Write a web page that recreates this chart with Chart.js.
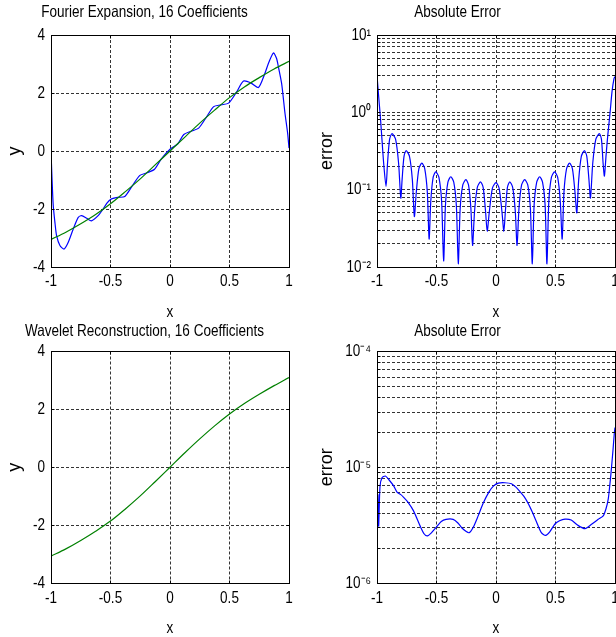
<!DOCTYPE html>
<html>
<head>
<meta charset="utf-8">
<title>Fourier vs wavelet, 16 coefficients</title>
<script src="https://cdn.jsdelivr.net/npm/chart.js@4.4.1/dist/chart.umd.min.js"></script>
<style>
    html, body { margin: 0; padding: 0; background: #fff; overflow: hidden; }
    body { position: relative; width: 616px; height: 637px; }
    canvas { position: absolute; }
    #fourierChart { left: 0; top: 0; }
    #fourierErrorChart { left: 300px; top: 0; }
    #waveletChart { left: 0; top: 318px; }
    #waveletErrorChart { left: 300px; top: 318px; }
</style>
</head>
<body>
<canvas id="fourierChart" width="340" height="318"></canvas>
<canvas id="fourierErrorChart" width="393" height="318"></canvas>
<canvas id="waveletChart" width="340" height="319"></canvas>
<canvas id="waveletErrorChart" width="393" height="319"></canvas>
<script>
// axis ticks
var xTicks = [-1, -0.5, 0, 0.5, 1];
var xTickLabels = ["-1", "-0.5", "0", "0.5", "1"];
var yTicks = [-4, -2, 0, 2, 4];
var yTickLabels = ["-4", "-2", "0", "2", "4"];

var fourierErrDecades = [1e-2, 1e-1, 1e0, 1e1];
var fourierErrLabels = ["10⁻²", "10⁻¹", "10⁰", "10¹"];
var waveletErrDecades = [1e-6, 1e-5, 1e-4];
var waveletErrLabels = ["10⁻⁶", "10⁻⁵", "10⁻⁴"];

// exact function
var exactX = [-1, -0.875, -0.75, -0.625, -0.5, -0.375, -0.25, -0.125, 0,
    0.125, 0.25, 0.375, 0.5, 0.625, 0.75, 0.875, 1];
var exactY = [-3.05, -2.80, -2.51, -2.19, -1.82, -1.40, -0.96, -0.48, 0,
    0.48, 0.96, 1.41, 1.84, 2.21, 2.53, 2.83, 3.09];

// truncated Fourier series
var fourierX = [-1, -0.992, -0.981, -0.966, -0.953, -0.925, -0.889, -0.855, -0.813, -0.771,
    -0.743, -0.70, -0.66, -0.604, -0.562, -0.53, -0.50, -0.44, -0.38, -0.317,
    -0.253, -0.197, -0.13, -0.074, 0, 0.066, 0.116, 0.177, 0.241, 0.305,
    0.367, 0.428, 0.492, 0.556, 0.618, 0.679, 0.743, 0.794, 0.83, 0.869,
    0.895, 0.911, 0.938, 0.966, 0.989, 1];
var fourierY = [0, -0.9, -1.89, -2.5, -2.92, -3.26, -3.38, -3.15, -2.69, -2.29,
    -2.23, -2.32, -2.41, -2.23, -2.0, -1.80, -1.67, -1.60, -1.57, -1.20,
    -0.84, -0.76, -0.63, -0.28, 0.06, 0.25, 0.57, 0.68, 0.79, 1.16,
    1.53, 1.59, 1.65, 2.01, 2.41, 2.35, 2.19, 2.64, 3.05, 3.38,
    3.2, 2.9, 2.33, 1.31, 0.6, 0.1];

// |fourier - exact|
var fourierErrX = [-1, -0.986, -0.972, -0.958, -0.944, -0.924,
    -0.9115, -0.894, -0.874, -0.844, -0.8185, -0.800,
    -0.789, -0.773, -0.755, -0.727, -0.703, -0.686,
    -0.670, -0.648, -0.623, -0.599, -0.577, -0.562,
    -0.548, -0.528, -0.506, -0.480, -0.457, -0.440,
    -0.425, -0.404, -0.380, -0.355, -0.333, -0.317,
    -0.301, -0.279, -0.253, -0.231, -0.211, -0.197,
    -0.180, -0.157, -0.130, -0.108, -0.088, -0.074,
    -0.056, -0.030, 0.0, 0.026, 0.050, 0.066,
    0.079, 0.096, 0.116, 0.140, 0.162, 0.177,
    0.193, 0.215, 0.241, 0.267, 0.289, 0.305,
    0.320, 0.342, 0.367, 0.391, 0.413, 0.428,
    0.444, 0.466, 0.492, 0.518, 0.540, 0.556,
    0.571, 0.593, 0.618, 0.642, 0.664, 0.679,
    0.695, 0.717, 0.743, 0.763, 0.781, 0.794,
    0.813, 0.839, 0.869, 0.886, 0.900, 0.911,
    0.925, 0.939, 0.958, 0.975, 0.992, 1.0];
var fourierErrY = [3.0, 1.6, 0.88, 0.44, 0.22, 0.11,
    0.22, 0.45, 0.53, 0.45, 0.22, 0.078,
    0.135, 0.27, 0.32, 0.27, 0.135, 0.045,
    0.092, 0.187, 0.22, 0.187, 0.092, 0.023,
    0.071, 0.145, 0.17, 0.145, 0.071, 0.012,
    0.062, 0.125, 0.147, 0.125, 0.062, 0.011,
    0.057, 0.115, 0.135, 0.115, 0.057, 0.019,
    0.053, 0.107, 0.126, 0.107, 0.053, 0.029,
    0.052, 0.105, 0.123, 0.105, 0.052, 0.029,
    0.053, 0.107, 0.126, 0.107, 0.053, 0.019,
    0.057, 0.115, 0.135, 0.115, 0.057, 0.011,
    0.062, 0.125, 0.147, 0.125, 0.062, 0.011,
    0.071, 0.145, 0.17, 0.145, 0.071, 0.023,
    0.092, 0.187, 0.22, 0.187, 0.092, 0.05,
    0.135, 0.27, 0.32, 0.27, 0.135, 0.078,
    0.22, 0.45, 0.53, 0.45, 0.22, 0.15,
    0.28, 0.5, 0.97, 1.85, 2.75, 2.9];

// wavelet reconstruction
var waveletX = [-1, -0.875, -0.75, -0.625, -0.5, -0.375, -0.25, -0.125, 0,
    0.125, 0.25, 0.375, 0.5, 0.625, 0.75, 0.875, 1];
var waveletY = [-3.07, -2.82, -2.53, -2.21, -1.86, -1.44, -0.99, -0.50, 0,
    0.50, 0.98, 1.43, 1.84, 2.20, 2.52, 2.82, 3.10];

// |wavelet - exact|
var waveletErrX = [-1, -0.996, -0.992, -0.986, -0.975, -0.958, -0.93, -0.90, -0.86, -0.832,
    -0.80, -0.776, -0.74, -0.693, -0.637, -0.603, -0.576, -0.545, -0.50, -0.46,
    -0.42, -0.36, -0.32, -0.288, -0.25, -0.225, -0.19, -0.15, -0.107, -0.06,
    -0.02, 0.02, 0.074, 0.13, 0.17, 0.20, 0.235, 0.269, 0.305, 0.339,
    0.381, 0.417, 0.45, 0.497, 0.534, 0.58, 0.632, 0.688, 0.748, 0.80,
    0.859, 0.901, 0.925, 0.943, 0.955, 0.966, 0.983, 0.994, 1.0];
var waveletErrY = [7.6e-6, 4.0e-6, 5.8e-6, 3.1e-6, 6.8e-6, 8.1e-6, 8.4e-6, 7.8e-6, 6.9e-6, 6.1e-6,
    5.8e-6, 5.5e-6, 5.0e-6, 4.2e-6, 3.1e-6, 2.65e-6, 2.55e-6, 2.7e-6, 3.05e-6, 3.4e-6,
    3.55e-6, 3.55e-6, 3.3e-6, 3.0e-6, 2.78e-6, 2.72e-6, 3.05e-6, 3.8e-6, 4.9e-6, 6.1e-6,
    6.9e-6, 7.3e-6, 7.35e-6, 7.2e-6, 6.7e-6, 6.2e-6, 5.6e-6, 4.9e-6, 4.1e-6, 3.4e-6,
    2.72e-6, 2.58e-6, 2.75e-6, 3.25e-6, 3.45e-6, 3.56e-6, 3.5e-6, 3.15e-6, 2.95e-6, 3.2e-6,
    3.55e-6, 3.8e-6, 4.4e-6, 5.3e-6, 6.8e-6, 8.8e-6, 1.4e-5, 1.95e-5, 2.2e-5];

var BLUE = "#0000ff";
var GREEN = "#008000";
var GRID = "#333333";
var FONT = "'Liberation Sans', Arial, Helvetica, sans-serif";

var tickFont = { family: FONT, size: 16.5 };
var xLabelFont = { family: FONT, size: 16.5 };
var yLabelFont = { family: FONT, size: 18 };
var titleFont = { family: FONT, size: 16.5, weight: "normal" };

function points(xs, ys) {
    return xs.map(function (x, i) { return { x: x, y: ys[i] }; });
}

// every 1..9 x 10^k line between the decades
function logGrid(decades) {
    var out = [];
    for (var i = 0; i < decades.length - 1; i++) {
        for (var m = 1; m < 10; m++) out.push(m * decades[i]);
    }
    out.push(decades[decades.length - 1]);
    return out;
}

function decadeLabel(decades, labels) {
    return function (value) {
        for (var i = 0; i < decades.length; i++) {
            if (Math.abs(value - decades[i]) < decades[i] * 1e-6) return labels[i];
        }
        return "";
    };
}

function fixedTicks(values) {
    return function (scale) {
        scale.ticks = values.map(function (v) { return { value: v }; });
    };
}

var gridOpts = { color: GRID, lineWidth: 1, drawTicks: false };
var borderOpts = { display: false, dash: [3, 2] };

function xAxis(height, tickPad, titleBottom) {
    return {
        type: "linear",
        min: -1,
        max: 1,
        afterBuildTicks: fixedTicks(xTicks),
        afterFit: function (s) { s.height = height; },
        ticks: {
            autoSkip: false, maxRotation: 0, padding: tickPad, color: "#000", font: tickFont,
            callback: function (v) { return xTickLabels[xTicks.indexOf(v)]; }
        },
        grid: gridOpts,
        border: borderOpts,
        title: { display: true, text: "x", color: "#000", font: xLabelFont, padding: { top: 0, bottom: titleBottom } }
    };
}

function yLinearAxis(width, titlePad) {
    return {
        type: "linear",
        min: -4,
        max: 4,
        afterBuildTicks: fixedTicks(yTicks),
        afterFit: function (s) { s.width = width; },
        ticks: {
            autoSkip: false, padding: 6, color: "#000", font: tickFont,
            callback: function (v) { return yTickLabels[yTicks.indexOf(v)]; }
        },
        grid: gridOpts,
        border: borderOpts,
        title: { display: true, text: "y", color: "#000", font: yLabelFont, padding: { top: titlePad, bottom: 0 } }
    };
}

function yLogAxis(decades, labels, width, titlePad) {
    return {
        type: "logarithmic",
        min: decades[0],
        max: decades[decades.length - 1],
        afterBuildTicks: fixedTicks(logGrid(decades)),
        afterFit: function (s) { s.width = width; },
        ticks: {
            autoSkip: false, padding: 6, color: "#000", font: tickFont,
            callback: decadeLabel(decades, labels)
        },
        grid: gridOpts,
        border: borderOpts,
        title: { display: true, text: "error", color: "#000", font: yLabelFont, padding: { top: titlePad, bottom: 0 } }
    };
}

function align(p) {
    return Math.round(p - 0.5) + 0.5;
}

// horizontal lettering is set condensed (82% width); rotated axis titles are left alone
var condensedText = {
    id: "condensedText",
    beforeInit: function (chart) {
        var ctx = chart.ctx;
        var fill = ctx.fillText;
        ctx.fillText = function (text, x, y, maxWidth) {
            var m = ctx.getTransform();
            if (m.b !== 0 || m.c !== 0) {
                return maxWidth === undefined ? fill.call(ctx, text, x, y) : fill.call(ctx, text, x, y, maxWidth);
            }
            ctx.save();
            ctx.translate(x, y);
            ctx.scale(0.82, 1);
            if (maxWidth === undefined) {
                fill.call(ctx, text, 0, 0);
            } else {
                fill.call(ctx, text, 0, 0, maxWidth / 0.82);
            }
            ctx.restore();
        };
    }
};

// solid box round the plot area with short inward tick marks
var axesFrame = {
    id: "axesFrame",
    afterDraw: function (chart) {
        var a = chart.chartArea;
        var ctx = chart.ctx;
        var xs = chart.scales.x;
        var ys = chart.scales.y;
        var l = align(a.left), r = align(a.right), t = align(a.top), b = align(a.bottom);

        ctx.save();
        ctx.setLineDash([]);
        ctx.strokeStyle = "#000";
        ctx.lineWidth = 1;
        ctx.beginPath();
        xs.ticks.forEach(function (tk) {
            var px = align(xs.getPixelForValue(tk.value));
            ctx.moveTo(px, b); ctx.lineTo(px, b - 3);
            ctx.moveTo(px, t); ctx.lineTo(px, t + 3);
        });
        ys.ticks.forEach(function (tk) {
            var py = align(ys.getPixelForValue(tk.value));
            ctx.moveTo(l, py); ctx.lineTo(l + 3, py);
            ctx.moveTo(r, py); ctx.lineTo(r - 3, py);
        });
        ctx.stroke();
        ctx.strokeRect(l, t, r - l, b - t);
        ctx.restore();
    }
};

function line(xs, ys, color, order, smooth) {
    var ds = {
        data: points(xs, ys),
        borderColor: color,
        borderWidth: 1.2,
        pointRadius: 0,
        fill: false,
        order: order
    };
    if (smooth) {
        ds.cubicInterpolationMode = "monotone";
    } else {
        ds.tension = 0.25;
    }
    return ds;
}

function panel(id, title, titlePad, datasets, yScale, xAxisOpts, rightPad) {
    return new Chart(document.getElementById(id), {
        type: "line",
        data: { datasets: datasets },
        options: {
            responsive: false,
            animation: false,
            devicePixelRatio: 1,
            events: [],
            layout: { padding: { left: 0, top: 0, bottom: 0, right: rightPad } },
            scales: { x: xAxisOpts, y: yScale },
            plugins: {
                legend: { display: false },
                tooltip: { enabled: false },
                title: {
                    display: true,
                    text: title,
                    color: "#000",
                    font: titleFont,
                    padding: { top: titlePad[0], bottom: titlePad[1] }
                }
            }
        },
        plugins: [condensedText, axesFrame]
    });
}

panel("fourierChart", "Fourier Expansion, 16 Coefficients", [2.9, 12.3],
    [line(fourierX, fourierY, BLUE, 2, false), line(exactX, exactY, GREEN, 1, true)],
    yLinearAxis(51, 4.2), xAxis(51, 5, -4), 51);

panel("fourierErrorChart", "Absolute Error", [2.9, 12.3],
    [line(fourierErrX, fourierErrY, BLUE, 1, false)],
    yLogAxis(fourierErrDecades, fourierErrLabels, 77, 15.8), xAxis(51, 5, -4), 78);

panel("waveletChart", "Wavelet Reconstruction, 16 Coefficients", [3.4, 10.3],
    [line(waveletX, waveletY, GREEN, 1, true)],
    yLinearAxis(51, 4.2), xAxis(54, 6, -1), 51);

panel("waveletErrorChart", "Absolute Error", [3.4, 10.3],
    [line(waveletErrX, waveletErrY, BLUE, 1, false)],
    yLogAxis(waveletErrDecades, waveletErrLabels, 77, 15.8), xAxis(54, 6, -1), 78);
</script>
</body>
</html>
